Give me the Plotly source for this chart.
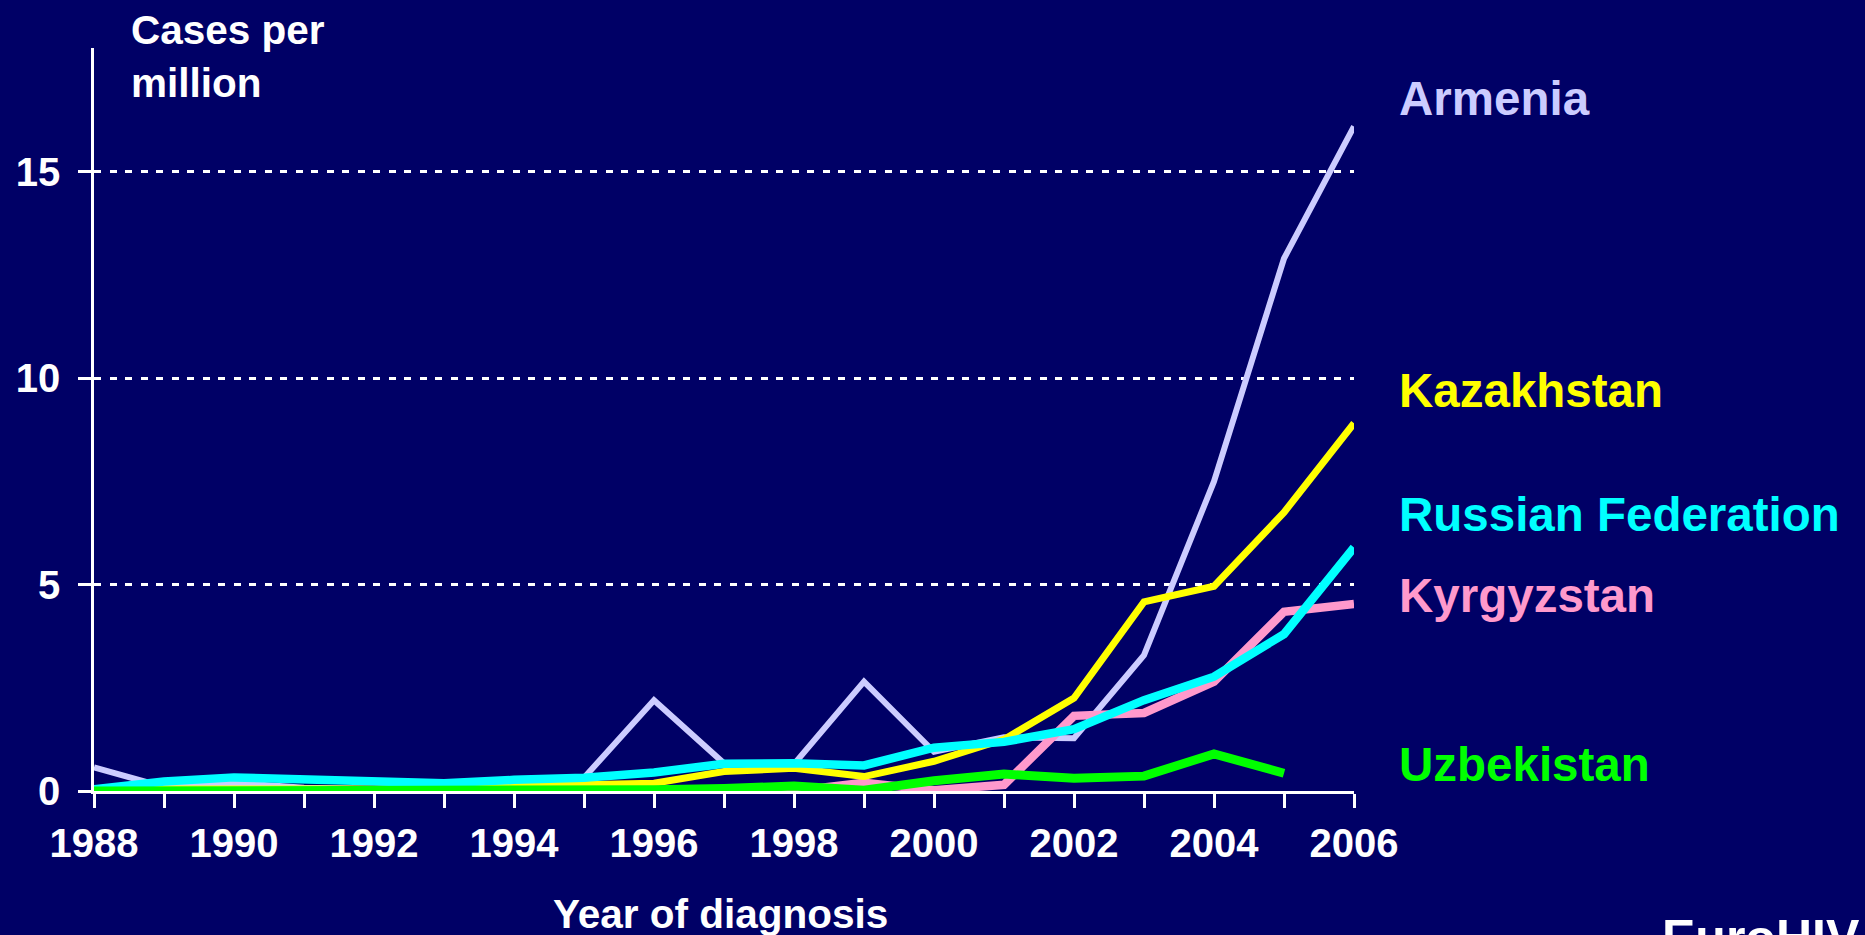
import plotly.graph_objects as go

years = list(range(1988, 2007))

armenia = [0.57, 0.1, 0.2, 0.08, 0.05, 0.1, 0.1, 0.32, 2.2, 0.67, 0.65, 2.65,
           0.95, 1.3, 1.28, 3.29, 7.5, 12.9, 16.1]
kazakhstan = [0.05, 0.05, 0.05, 0.05, 0.05, 0.05, 0.12, 0.17, 0.19, 0.47, 0.55, 0.35,
              0.72, 1.25, 2.25, 4.58, 4.96, 6.75, 8.91]
russia = [0.04, 0.23, 0.33, 0.28, 0.24, 0.19, 0.27, 0.32, 0.45, 0.66, 0.67, 0.62,
          1.05, 1.19, 1.5, 2.2, 2.77, 3.8, 5.9]
kyrgyzstan = [0.0, 0.0, 0.0, 0.0, 0.0, 0.0, 0.0, 0.0, 0.0, 0.0, 0.0, 0.2,
              0.02, 0.15, 1.82, 1.89, 2.65, 4.34, 4.53]
uzbekistan = [0.0, 0.0, 0.0, 0.0, 0.04, 0.04, 0.0, 0.0, 0.03, 0.06, 0.12, 0.02,
              0.25, 0.41, 0.31, 0.36, 0.9, 0.43, None]

series = [
    ("Armenia", armenia, "#ccccff", 6),
    ("Kyrgyzstan", kyrgyzstan, "#ff99cc", 8.5),
    ("Kazakhstan", kazakhstan, "#ffff00", 7),
    ("Russian Federation", russia, "#00ffff", 8.5),
    ("Uzbekistan", uzbekistan, "#00ff00", 9),
]

# label positions (paper coords) and colours
labels = [
    ("Armenia", "#ccccff", 0.932),
    ("Kazakhstan", "#ffff00", 0.5397),
    ("Russian Federation", "#00ffff", 0.3715),
    ("Kyrgyzstan", "#ff99cc", 0.2625),
    ("Uzbekistan", "#00ff00", 0.0363),
]

BG = "#000066"
FONT = "Liberation Sans, Arial, sans-serif"

fig = go.Figure()
for name, vals, col, w in series:
    fig.add_trace(go.Scatter(
        x=years, y=vals, mode="lines", name=name,
        line=dict(color=col, width=w),
        cliponaxis=False, connectgaps=False, showlegend=False,
    ))

annotations = []
for text, col, yp in labels:
    annotations.append(dict(
        text=f"<b>{text}</b>", x=1.0345, y=yp, xref="paper", yref="paper",
        xanchor="left", yanchor="middle", showarrow=False,
        font=dict(family=FONT, size=47.5, color=col),
    ))
annotations.append(dict(
    text="<b>Cases per<br>million</b>", x=(129 - 94) / 1260, y=(791 - 5.0) / 743,
    xref="paper", yref="paper", xanchor="left", yanchor="top", align="left",
    showarrow=False, font=dict(family=FONT, size=40.5, color="white"),
))
annotations.append(dict(
    text="<b>Year of diagnosis</b>", x=0.4976, y=(791 - 889.0) / 743,
    xref="paper", yref="paper", xanchor="center", yanchor="top",
    showarrow=False, font=dict(family=FONT, size=40.5, color="white"),
))
annotations.append(dict(
    text="<b>EuroHIV</b>", x=(1660 - 94) / 1260, y=(791 - 908) / 743,
    xref="paper", yref="paper", xanchor="left", yanchor="top",
    showarrow=False, font=dict(family=FONT, size=50, color="white"),
))

fig.update_layout(
    width=1865, height=935,
    paper_bgcolor=BG, plot_bgcolor=BG,
    margin=dict(l=94, r=511, t=48, b=144, autoexpand=False),
    annotations=annotations,
    xaxis=dict(
        range=[1988, 2006], tickvals=list(range(1988, 2007, 2)),
        showgrid=False, zeroline=False,
        showline=True, linecolor="white", linewidth=2.5,
        ticks="outside", ticklen=14, tickwidth=2.5, tickcolor="white",
        minor=dict(dtick=1, tick0=1988, ticks="outside", ticklen=14, tickwidth=2.5,
                   tickcolor="white", showgrid=False),
        tickfont=dict(family=FONT, size=40, color="white", weight="bold"),
        ticklabelstandoff=1,
        layer="below traces",
    ),
    yaxis=dict(
        range=[0, 18], tickvals=[0, 5, 10, 15],
        showgrid=True, gridcolor="white", gridwidth=3, griddash="7px,8.5px",
        zeroline=False,
        showline=True, linecolor="white", linewidth=2.5,
        ticks="outside", ticklen=13, tickwidth=2.5, tickcolor="white",
        tickfont=dict(family=FONT, size=40, color="white", weight="bold"),
        ticklabelstandoff=10,
        layer="below traces",
    ),
)

fig.write_html(
    "out.html",
    config={"displayModeBar": False},
    post_script="document.body.style.margin='0';document.body.style.overflow='hidden';",
)
